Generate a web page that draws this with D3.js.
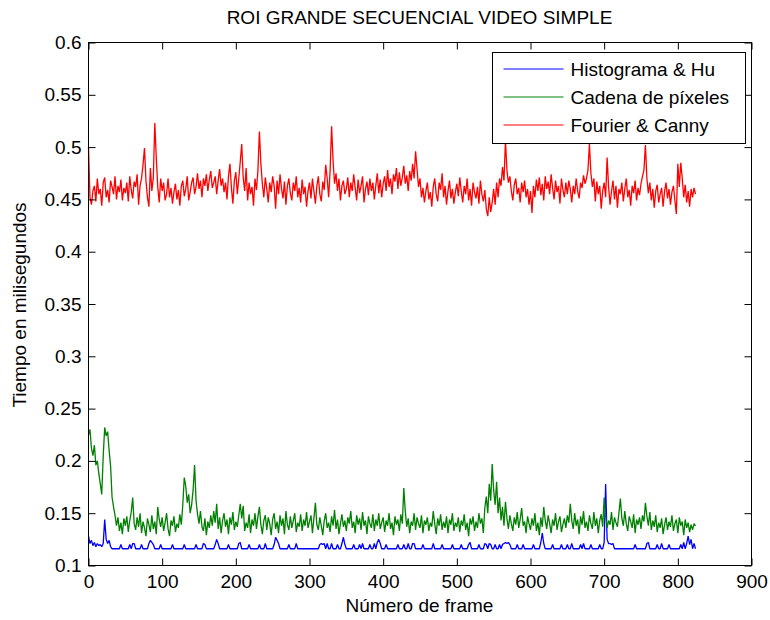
<!DOCTYPE html>
<html>
<head>
<meta charset="utf-8">
<script src="https://cdn.jsdelivr.net/npm/d3@7"></script>
<style>
  body { margin: 0; background: #fff; }
  text { font-family: "Liberation Sans", Arial, sans-serif; fill: #000; }
</style>
</head>
<body>
<div id="canvas"></div>
<script>
// tiempos x1000 (0.462 -> 462), un valor cada 2 frames desde el frame 0
const histogramaHu = [
  128,121,124,119,122,118,121,119,120,118,121,144,125,121,124,118,116,116,116,116,116,116,120,116,116,
  116,116,116,120,116,121,121,116,116,116,116,120,116,116,116,116,121,124,122,120,116,116,116,116,120,
  116,116,116,116,116,116,116,120,116,116,116,116,116,116,116,120,116,116,116,116,116,116,116,120,116,
  116,116,116,121,120,116,116,116,116,116,116,120,125,121,116,116,116,116,116,116,120,116,116,116,116,
  116,116,121,122,116,116,116,116,116,120,116,116,116,116,116,116,120,116,116,116,121,116,116,116,116,
  116,120,127,124,121,116,116,116,116,116,116,120,116,116,116,116,121,116,116,116,116,116,116,116,116,
  116,116,116,116,116,116,116,120,121,120,121,116,121,116,116,121,116,116,116,120,116,116,121,127,120,
  116,116,116,116,116,120,116,116,116,120,116,121,116,116,116,116,120,116,116,121,116,122,125,121,116,
  116,116,120,116,116,116,116,116,116,116,120,116,116,116,120,116,116,121,116,116,121,121,116,116,116,
  116,116,120,116,116,116,116,116,116,121,116,116,116,116,116,120,116,116,116,116,116,116,120,116,116,
  116,116,116,120,116,116,116,116,120,122,116,116,116,116,116,120,116,116,116,121,120,116,121,120,116,
  116,120,116,116,120,116,120,121,122,121,122,120,116,116,116,116,120,116,116,116,120,116,116,116,116,
  116,116,120,116,116,116,116,122,131,121,116,116,116,116,116,120,116,116,116,116,116,120,116,116,116,
  120,116,116,121,116,116,116,116,116,120,116,121,116,116,116,116,120,116,116,116,116,116,120,116,116,
  122,178,125,121,121,120,121,116,116,116,116,116,116,116,116,116,116,116,116,116,116,120,116,116,116,
  116,116,116,116,121,122,116,116,116,116,116,120,116,116,121,116,116,116,116,120,116,116,116,116,116,
  116,116,120,116,122,116,121,128,120,125,116,121,116
];

const cadenaPixeles = [
  225,230,212,205,215,196,200,188,178,168,205,232,224,228,210,195,165,156,148,138,146,133,141,130,145,
  138,147,132,143,151,165,140,134,146,137,150,131,142,136,128,145,139,132,148,135,142,130,156,144,137,
  146,133,141,150,135,128,143,138,147,132,140,136,149,139,158,184,176,160,168,150,158,172,196,162,149,
  140,152,137,133,145,129,142,136,148,138,152,141,159,135,146,131,143,150,137,144,130,146,139,151,134,
  142,137,148,159,145,157,133,141,136,149,131,144,138,150,135,147,156,139,130,143,148,134,146,140,129,
  144,150,135,142,131,148,138,145,130,152,139,134,147,136,143,150,132,141,137,149,133,144,138,151,136,
  142,148,131,145,160,139,134,146,138,129,143,150,136,141,132,147,138,153,135,144,130,140,149,137,143,
  133,146,140,152,136,142,131,148,139,145,134,151,138,143,130,147,140,136,149,133,144,138,150,135,141,
  146,132,143,138,150,135,141,129,147,139,144,133,149,140,174,152,137,145,131,142,138,150,134,146,140,
  136,148,131,143,139,146,133,141,137,152,140,130,145,138,149,134,142,136,147,131,144,139,150,133,141,
  137,146,132,143,138,149,134,141,128,145,139,147,133,142,136,150,140,145,131,155,166,150,178,162,197,
  172,158,180,150,165,143,156,138,161,145,135,148,140,133,146,139,151,136,144,155,138,142,131,147,140,
  134,145,138,150,133,141,129,146,137,156,143,135,148,140,131,144,138,150,134,142,147,132,139,145,136,
  148,141,159,143,135,150,138,144,130,147,139,152,136,142,133,148,140,135,151,138,145,131,143,149,137,
  165,148,136,143,139,151,134,146,141,137,150,164,145,138,152,140,133,147,142,136,149,131,144,139,146,
  135,148,142,160,147,138,151,134,143,137,148,132,141,136,145,130,139,146,134,142,137,148,133,140,144,
  131,146,138,142,129,144,136,141,132,139,134,140,138
];

const fourierCanny = [
  500,452,445,458,463,448,470,455,460,444,466,471,452,459,447,468,462,455,472,450,463,457,469,449,461,
  456,466,448,472,459,451,467,462,474,445,463,470,483,499,468,452,443,480,458,471,523,490,462,447,470,
  458,466,449,455,470,452,461,446,457,465,450,459,444,463,468,453,460,472,449,457,466,471,455,462,475,
  460,468,452,470,463,474,458,469,477,461,466,472,455,468,479,463,470,457,466,450,472,484,461,446,468,
  476,455,470,486,503,471,458,480,449,466,455,462,444,470,459,478,515,484,465,452,471,460,447,466,457,
  472,463,441,468,455,474,460,451,467,445,463,470,456,449,466,458,472,452,461,447,469,455,462,443,458,
  466,451,470,458,446,463,472,455,448,467,459,483,470,452,478,520,487,465,475,458,470,449,463,468,455,
  460,471,452,466,458,474,461,449,469,456,463,472,447,460,467,454,470,458,466,450,463,475,456,469,452,
  465,472,458,478,462,470,455,474,467,480,460,476,463,471,482,465,473,458,477,468,484,470,496,479,462,
  470,452,461,447,458,466,450,457,443,462,470,455,448,466,459,475,452,463,445,458,468,451,460,446,457,
  465,453,471,458,447,463,455,470,449,460,444,466,457,451,462,446,468,455,448,459,441,434,452,438,447,
  460,445,466,452,470,463,481,468,506,478,466,472,458,449,464,470,455,461,447,466,457,468,452,460,445,
  458,437,463,452,469,458,471,454,465,449,472,460,467,455,474,461,450,468,457,463,446,470,459,452,466,
  455,468,460,447,463,455,470,458,451,466,461,473,465,470,478,503,475,462,470,448,467,455,463,441,458,
  466,452,490,462,445,458,468,450,463,442,460,455,466,448,460,470,452,459,444,463,456,468,449,461,454,
  465,472,478,502,470,456,466,449,460,442,458,464,447,455,461,443,458,466,451,460,445,457,463,449,436,
  484,462,485,470,452,464,447,458,443,460,452,461,455
];

const seriesNames = ["Histograma & Hu", "Cadena de píxeles", "Fourier & Canny"];
const seriesColors = ["#0000ff", "#008000", "#ff0000"];
const xTicks = [0, 100, 200, 300, 400, 500, 600, 700, 800, 900];
const yTicks = [0.1, 0.15, 0.2, 0.25, 0.3, 0.35, 0.4, 0.45, 0.5, 0.55, 0.6];

const series = [histogramaHu, cadenaPixeles, fourierCanny].map((values, i) => ({
  name: seriesNames[i],
  color: seriesColors[i],
  values: values
}));

const width = 770;
const height = 620;
const margin = { top: 42, left: 88, bottom: 55, right: 19 };
const iwidth = width - margin.left - margin.right;
const iheight = height - margin.top - margin.bottom;
const fs = 19;

const svg = d3.select("#canvas").append("svg")
  .attr("width", width)
  .attr("height", height)
  .style("display", "block");

svg.append("rect").attr("width", width).attr("height", height).attr("fill", "#fff");

const g = svg.append("g").attr("transform", `translate(${margin.left + 0.5}, ${margin.top + 0.5})`);

const x = d3.scaleLinear().domain([0, 900]).range([0, iwidth]);
const y = d3.scaleLinear().domain([0.1, 0.6]).range([iheight, 0]);

const line = d3.line()
  .x((d, i) => x(i * 2))
  .y((d) => y(d / 1000));

g.selectAll("path.serie")
  .data(series)
  .enter()
  .append("path")
  .attr("class", "serie")
  .attr("fill", "none")
  .attr("stroke", (d) => d.color)
  .attr("stroke-width", 1.3)
  .attr("stroke-linejoin", "bevel")
  .attr("d", (d) => line(d.values));

// ejes estilo matlab: ticks hacia dentro en los 4 lados
const fmtY = (d) => String(+d.toFixed(2));

const bottomAxis = g.append("g")
  .attr("transform", `translate(0, ${iheight})`)
  .call(d3.axisBottom(x).tickValues(xTicks).tickSizeInner(-7).tickSizeOuter(0).tickPadding(8));
const leftAxis = g.append("g")
  .call(d3.axisLeft(y).tickValues(yTicks).tickFormat(fmtY).tickSizeInner(-7).tickSizeOuter(0).tickPadding(7));
g.append("g")
  .call(d3.axisTop(x).tickValues(xTicks).tickFormat("").tickSizeInner(-7).tickSizeOuter(0));
g.append("g")
  .attr("transform", `translate(${iwidth}, 0)`)
  .call(d3.axisRight(y).tickValues(yTicks).tickFormat("").tickSizeInner(-7).tickSizeOuter(0));

g.selectAll(".domain").remove();
g.selectAll(".tick line").attr("stroke", "#000");
g.selectAll(".tick text").style("font-size", fs + "px").attr("fill", "#000");
bottomAxis.selectAll(".tick text").attr("dy", "0.78em");

g.append("rect")
  .attr("width", iwidth)
  .attr("height", iheight)
  .attr("fill", "none")
  .attr("stroke", "#000");

// leyenda
const legend = svg.append("g").attr("transform", "translate(492.5, 52.5)");
legend.append("rect")
  .attr("width", 253)
  .attr("height", 91)
  .attr("fill", "#fff")
  .attr("stroke", "#000");

const items = legend.selectAll("g.item")
  .data(series)
  .enter()
  .append("g")
  .attr("class", "item")
  .attr("transform", (d, i) => `translate(0, ${16.5 + i * 28})`);

items.append("line")
  .attr("x1", 11)
  .attr("x2", 71)
  .attr("stroke", (d) => d.color);

items.append("text")
  .attr("x", 78)
  .attr("dy", "0.35em")
  .style("font-size", fs + "px")
  .text((d) => d.name);

svg.append("text")
  .attr("text-anchor", "middle")
  .style("font-size", fs + "px")
  .attr("x", margin.left + iwidth / 2)
  .attr("y", 24)
  .text("ROI GRANDE SECUENCIAL VIDEO SIMPLE");

svg.append("text")
  .attr("text-anchor", "middle")
  .style("font-size", fs + "px")
  .attr("x", margin.left + iwidth / 2)
  .attr("y", 612)
  .text("Número de frame");

svg.append("text")
  .attr("text-anchor", "middle")
  .style("font-size", fs + "px")
  .attr("transform", "translate(26, 305) rotate(-90)")
  .text("Tiempo en milisegundos");
</script>
</body>
</html>
